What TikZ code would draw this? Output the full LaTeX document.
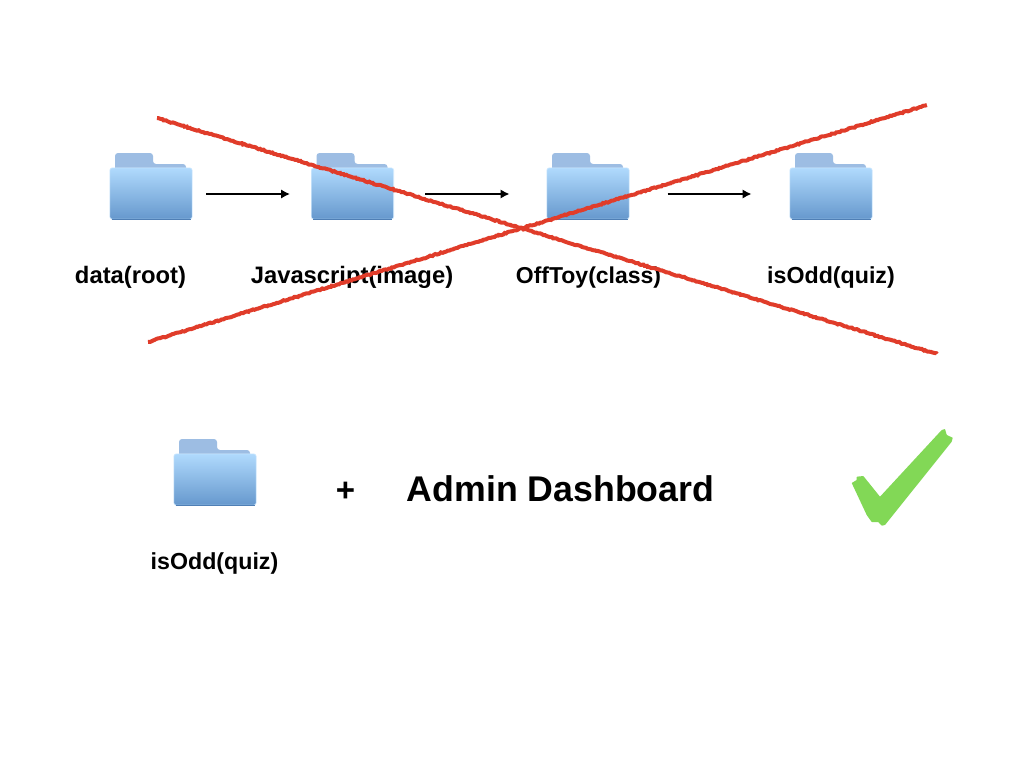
\documentclass[tikz,border=0pt]{standalone}
\usepackage{fontspec}
\setmainfont{Liberation Sans}
\usetikzlibrary{arrows.meta,decorations.pathmorphing}
\definecolor{fold top}{HTML}{B0DAFD}
\definecolor{fold bot}{HTML}{6698CD}
\definecolor{fold tab}{HTML}{9DBDE3}
\definecolor{fold edge}{HTML}{4F7FB5}
\definecolor{cross red}{HTML}{E03C2A}
\definecolor{tick green}{HTML}{82D856}
\tikzset{
  folderbody/.style={rectangle,rounded corners=2.5pt,minimum width=82.4pt,minimum height=51.4pt,inner sep=0pt,
    top color=fold top,bottom color=fold bot,draw=fold top!55,line width=.6pt},
  foldertab/.style={fill=fold tab,draw=none},
  lbl/.style={font=\bfseries\fontsize{23.8pt}{26pt}\selectfont,inner sep=0pt,anchor=base},
  lblsmall/.style={lbl,font=\bfseries\fontsize{23.2pt}{26pt}\selectfont},
  flow/.style={draw=black,line width=2.2pt,-{Latex[length=9pt,width=9.5pt]}},
  crossline/.style={draw=cross red,line width=4pt,decorate,decoration={random steps,segment length=1.8pt,amplitude=.6pt}},
}
\newcommand{\myfolder}[3]{%
  \fill[foldertab,rounded corners=3pt] (#2-36,#3-20) -- (#2-36,#3-40.5) -- (#2+2,#3-40.5) -- (#2+2,#3-29.5) -- (#2+35,#3-29.5) -- (#2+35,#3-20) -- cycle;
  \node[folderbody] (#1) at (#2,#3) {};
  \draw[fold edge,line width=.7pt] (#2-39.5,#3+25.5) -- (#2+39.5,#3+25.5);
}
\begin{document}
\begin{tikzpicture}[x=1pt,y=-1pt]
\useasboundingbox (0,0) rectangle (1024,768);
\fill[white] (0,0) rectangle (1024,768);
\myfolder{f1}{151}{193.5}
\myfolder{f2}{352.5}{193.5}
\myfolder{f3}{588}{193.5}
\myfolder{f4}{831}{193.5}
\myfolder{f5}{215}{479.5}
\draw[flow,shorten <=13.5pt,shorten >=21pt] ([yshift=-.5pt]f1.east) -- ([yshift=-.5pt]f2.west);
\draw[flow,shorten <=31pt,shorten >=37pt] ([yshift=-.5pt]f2.east) -- ([yshift=-.5pt]f3.west);
\draw[flow,shorten <=38pt,shorten >=38pt] ([yshift=-.5pt]f3.east) -- ([yshift=-.5pt]f4.west);
\node[lbl] (t1) at (130.5,283) {data(root)};
\node[lbl] (t2) at (352,283) {Javascript(image)};
\node[lblsmall,font=\bfseries\fontsize{23pt}{26pt}\selectfont] (t3) at (588.5,283) {OffToy(class)};
\node[lblsmall] (t4) at (831,283) {isOdd(quiz)};
\node[lblsmall] (t5) at (214.5,569) {isOdd(quiz)};
\node[font=\bfseries\fontsize{33pt}{36pt}\selectfont,inner sep=0pt,anchor=base] (plus) at (345.5,501) {+};
\node[font=\bfseries\fontsize{35.7pt}{38pt}\selectfont,inner sep=0pt,anchor=base] (admin) at (560.5,501) {Admin Dashboard};
\coordinate (c1a) at (157,118);
\coordinate (c1b) at (937,354);
\coordinate (c2a) at (148,342);
\coordinate (c2b) at (927,105);
\draw[crossline] (c1a) -- (c1b);
\draw[crossline] (c2a) -- (c2b);
\fill[tick green,rounded corners=.5pt] (851.7,483) -- (856.7,480) -- (856.7,476.7) -- (863.3,476) -- (880,496.7) -- (941.7,430) -- (945,429) -- (946.7,435) -- (952.7,437.7) -- (951.7,441.7) -- (885,525) -- (881.7,525.7) -- (878.3,522) -- (871.7,522) -- (866.7,515) -- cycle;
\end{tikzpicture}
\end{document}
